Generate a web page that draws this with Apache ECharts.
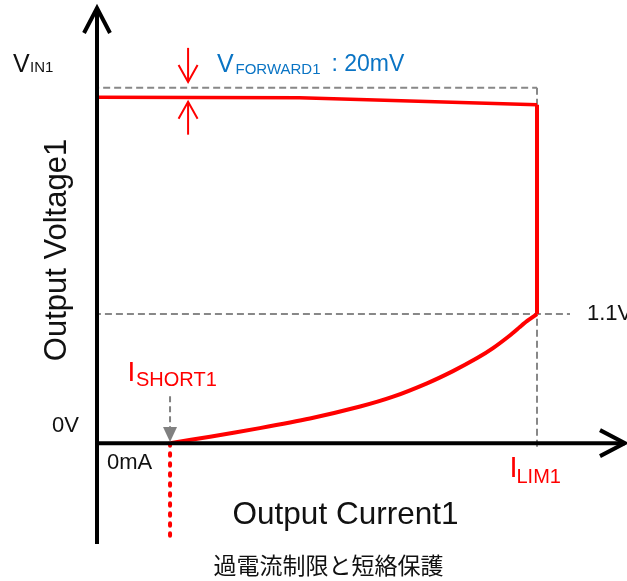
<!DOCTYPE html>
<html><head><meta charset="utf-8">
<script src="https://cdn.jsdelivr.net/npm/echarts/dist/echarts.min.js"></script>
<style>html,body{margin:0;padding:0;background:#fff}#c{width:627px;height:581px}</style>
</head><body><div id="c"></div>
<script>
// ---- data (x: output current, arbitrary units with ILIM = 100; y: output voltage in V) ----
const xExtent = [0, 120];
const yExtent = [-0.86, 3.71];
const vIn = 3.03;
const vKnee = 1.1;
const iLim = 100;
const iShort = 16.6;
const normalCurve = [[0, 2.95], [46, 2.945], [100, 2.885]];
const foldbackCurve = [[16.6, 0], [25.7, 0.055], [37.0, 0.128], [48.4, 0.21], [59.8, 0.312], [67.3, 0.396], [75.0, 0.51], [80.9, 0.614], [86.4, 0.725], [90.0, 0.81], [93.9, 0.92], [96.1, 0.99], [97.7, 1.04], [100, 1.1]];
const limitDrop = [[iLim, 2.885], [iLim, vKnee]];
const shortDotted = [[iShort, 0], [iShort, -0.83]];
const vinGuide = [[-18.6, vIn], [iLim, vIn]];
const kneeGuide = [[-3.2, vKnee], [107.5, vKnee]];
const limGuide = [[iLim, vIn], [iLim, -0.03]];
// arrows: [x1, y1, x2(tip), y2(tip)]
const axisArrows = [[0, -0.86, 0, 3.71], [-0.45, 0, 120, 0]];
const forwardArrows = [[20.7, 3.37, 20.7, 3.08], [20.7, 2.63, 20.7, 2.91]];
const shortArrow = [[iShort, 0.40, iShort, 0.01]];
// labels
const xTitle = 'Output Current1';
const yTitle = 'Output Voltage1';
const caption = '過電流制限と短絡保護';

const FONT = '"Liberation Sans", Arial, sans-serif';
const RED = '#ff0000', GRAY = '#888888', INK = '#111111', BLUE = '#0a74c4';

function chevronRenderer(color, width, headLen, half) {
  return function (params, api) {
    const p1 = api.coord([api.value(0), api.value(1)]);
    const p2 = api.coord([api.value(2), api.value(3)]);
    const dx = p2[0] - p1[0], dy = p2[1] - p1[1];
    const L = Math.hypot(dx, dy), ux = dx / L, uy = dy / L, nx = -uy, ny = ux;
    const a = [p2[0] - ux * headLen + nx * half, p2[1] - uy * headLen + ny * half];
    const b = [p2[0] - ux * headLen - nx * half, p2[1] - uy * headLen - ny * half];
    return {
      type: 'group', children: [
        { type: 'line', shape: { x1: p1[0], y1: p1[1], x2: p2[0], y2: p2[1] }, style: { stroke: color, lineWidth: width } },
        { type: 'polyline', shape: { points: [a, p2, b] }, style: { stroke: color, lineWidth: width, fill: null } }
      ]
    };
  };
}
function filledArrowRenderer(color, width, headLen, half) {
  return function (params, api) {
    const p1 = api.coord([api.value(0), api.value(1)]);
    const p2 = api.coord([api.value(2), api.value(3)]);
    const dx = p2[0] - p1[0], dy = p2[1] - p1[1];
    const L = Math.hypot(dx, dy), ux = dx / L, uy = dy / L, nx = -uy, ny = ux;
    const base = [p2[0] - ux * headLen, p2[1] - uy * headLen];
    return {
      type: 'group', children: [
        { type: 'line', shape: { x1: p1[0], y1: p1[1], x2: base[0], y2: base[1] }, style: { stroke: color, lineWidth: width, lineDash: [6, 4] } },
        { type: 'polygon', shape: { points: [[base[0] + nx * half, base[1] + ny * half], p2, [base[0] - nx * half, base[1] - ny * half]] }, style: { fill: color } }
      ]
    };
  };
}
function guide(data) {
  return { type: 'line', data: data, clip: false, symbol: 'none', silent: true, z: 1,
    lineStyle: { color: GRAY, width: 2, type: [7, 4] } };
}
function txt(x, y, text, size, color, extra, rot) {
  const el = { type: 'text', x: x, y: y, silent: true,
    style: Object.assign({ text: text, font: size + 'px ' + FONT, fill: color, align: 'left', verticalAlign: 'middle' }, (extra || {})) };
  if (rot) el.rotation = rot;
  return el;
}

const chart = echarts.init(document.getElementById('c'), null, { renderer: 'canvas' });
chart.setOption({
  animation: false,
  backgroundColor: '#ffffff',
  grid: { left: 97, right: 2, top: 8, bottom: 37 },
  xAxis: { type: 'value', min: xExtent[0], max: xExtent[1], show: false },
  yAxis: { type: 'value', min: yExtent[0], max: yExtent[1], show: false },
  series: [
    guide(vinGuide), guide(kneeGuide), guide(limGuide),
    { type: 'line', data: normalCurve, symbol: 'none', clip: false, z: 3, lineStyle: { color: RED, width: 3.5 } },
    { type: 'line', data: limitDrop, symbol: 'none', clip: false, z: 3, lineStyle: { color: RED, width: 4 } },
    { type: 'line', data: foldbackCurve, symbol: 'none', smooth: 0.2, clip: false, z: 3, lineStyle: { color: RED, width: 4, join: 'round' } },
    { type: 'line', data: shortDotted, symbol: 'none', clip: false, z: 3, lineStyle: { color: RED, width: 4, type: [2.5, 7.5], cap: 'round' } },
    { type: 'custom', data: axisArrows, renderItem: chevronRenderer('#000', 4, 25, 13), clip: false, z: 5 },
    { type: 'custom', data: forwardArrows, renderItem: chevronRenderer(RED, 2, 17, 9.5), clip: false, z: 5 },
    { type: 'custom', data: shortArrow, renderItem: filledArrowRenderer('#808080', 2, 15, 7), clip: false, z: 5 }
  ],
  graphic: [
    txt(13, 65, 'V', 25, INK), txt(30, 68, 'IN1', 15, INK),
    txt(217, 64.7, 'V', 25, BLUE), txt(235.5, 70.3, 'FORWARD1', 15, BLUE), txt(325, 65, ' : 20mV', 23, BLUE),
    txt(587, 313.5, '1.1V', 22, INK),
    txt(52, 426, '0V', 22, INK),
    txt(107, 462.5, '0mA', 22, INK),
    txt(127.5, 373, 'I', 28, RED), txt(136, 380, 'SHORT1', 20, RED),
    txt(509.5, 469, 'I', 29, RED), txt(516.5, 477.5, 'LIM1', 20, RED),
    txt(57, 250, yTitle, 31, INK, { align: 'center' }, Math.PI / 2),
    txt(345.5, 515.5, xTitle, 31.5, INK, { align: 'center' }),
    { type: 'text', x: 328.5, y: 565.5, silent: true,
      style: { text: caption, font: '23px "Noto Sans CJK JP", sans-serif', fill: INK, align: 'center', verticalAlign: 'middle' } }
  ]
});
</script>
</body></html>
